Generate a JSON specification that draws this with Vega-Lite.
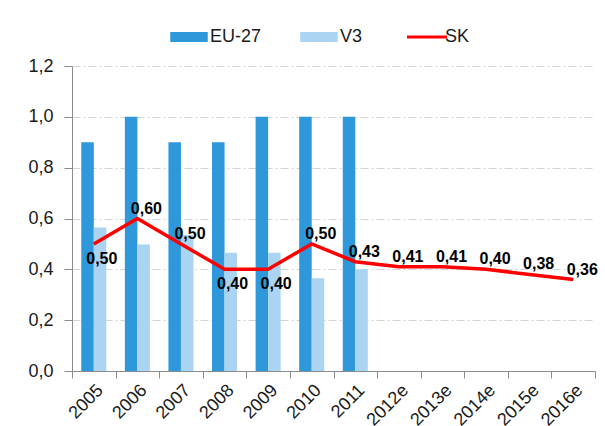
{
  "$schema": "https://vega.github.io/schema/vega-lite/v6.json",
  "autosize": {"type": "none"},
  "padding": {"left": 72, "top": 66, "right": 10, "bottom": 55},
  "width": 523,
  "height": 305,
  "background": "white",
  "data": {"values": [
    {"year": "2005", "series": "EU-27", "value": 0.9},
    {"year": "2006", "series": "EU-27", "value": 1.0},
    {"year": "2007", "series": "EU-27", "value": 0.9},
    {"year": "2008", "series": "EU-27", "value": 0.9},
    {"year": "2009", "series": "EU-27", "value": 1.0},
    {"year": "2010", "series": "EU-27", "value": 1.0},
    {"year": "2011", "series": "EU-27", "value": 1.0},
    {"year": "2005", "series": "V3", "value": 0.565},
    {"year": "2006", "series": "V3", "value": 0.498},
    {"year": "2007", "series": "V3", "value": 0.535},
    {"year": "2008", "series": "V3", "value": 0.465},
    {"year": "2009", "series": "V3", "value": 0.465},
    {"year": "2010", "series": "V3", "value": 0.365},
    {"year": "2011", "series": "V3", "value": 0.40},
    {"year": "2005", "series": "SK", "value": 0.50},
    {"year": "2006", "series": "SK", "value": 0.60},
    {"year": "2007", "series": "SK", "value": 0.50},
    {"year": "2008", "series": "SK", "value": 0.40},
    {"year": "2009", "series": "SK", "value": 0.40},
    {"year": "2010", "series": "SK", "value": 0.50},
    {"year": "2011", "series": "SK", "value": 0.43},
    {"year": "2012e", "series": "SK", "value": 0.41},
    {"year": "2013e", "series": "SK", "value": 0.41},
    {"year": "2014e", "series": "SK", "value": 0.40},
    {"year": "2015e", "series": "SK", "value": 0.38},
    {"year": "2016e", "series": "SK", "value": 0.36}
  ]},
  "encoding": {
    "x": {
      "field": "year", "type": "nominal",
      "sort": ["2005","2006","2007","2008","2009","2010","2011","2012e","2013e","2014e","2015e","2016e"],
      "scale": {"paddingInner": 0, "paddingOuter": 0},
      "axis": {
        "title": null, "labelAngle": -45, "labelFontSize": 18, "labelColor": "#1a1a1a",
        "labelFont": "Liberation Sans", "domainColor": "#8c8c8c", "tickColor": "#8c8c8c",
        "tickBand": "extent", "tickSize": 7, "labelPadding": 3, "grid": false
      }
    },
    "y": {
      "field": "value", "type": "quantitative",
      "scale": {"domain": [0, 1.2], "nice": false},
      "axis": {
        "title": null, "values": [0, 0.2, 0.4, 0.6, 0.8, 1.0, 1.2], "format": ".1f",
        "labelFontSize": 18, "labelColor": "#1a1a1a", "labelFont": "Liberation Sans",
        "domainColor": "#8c8c8c", "tickColor": "#8c8c8c", "tickSize": 8, "labelPadding": 11,
        "grid": true, "gridColor": "#d4d4d4", "gridDash": [8, 3, 2, 3]
      }
    }
  },
  "layer": [
    {
      "transform": [{"filter": "datum.series !== 'SK'"}],
      "mark": {"type": "bar"},
      "encoding": {
        "xOffset": {"field": "series", "type": "nominal", "sort": ["EU-27", "V3"], "scale": {"paddingInner": 0, "paddingOuter": 0.74}},
        "color": {
          "field": "series", "type": "nominal",
          "scale": {"domain": ["EU-27", "V3", "SK"], "range": ["#2E98DB", "#ABD3F2", "#FF0000"]},
          "legend": {
            "title": null, "orient": "none", "direction": "horizontal", "legendX": 108, "legendY": -38,
            "labelFontSize": 18, "labelFont": "Liberation Sans", "labelColor": "#1a1a1a",
            "symbolSize": 625, "labelOffset": 12, "columnPadding": 38,
            "encode": {
              "symbols": {"update": {
                "shape": {"signal": "datum.value === 'SK' ? 'M-1.6,0H1.6' : 'M-1.5,-0.4H1.5V0.4H-1.5Z'"},
                "fill": {"signal": "datum.value === 'SK' ? 'transparent' : (datum.value === 'EU-27' ? '#2E98DB' : '#ABD3F2')"},
                "stroke": {"signal": "datum.value === 'SK' ? '#FF0000' : 'transparent'"},
                "strokeWidth": {"signal": "datum.value === 'SK' ? 3 : 0"},
                "opacity": {"value": 1}
              }},
              "labels": {"update": {"dx": {"signal": "datum.value === 'SK' ? -3 : 0"}}}
            }
          }
        }
      }
    },
    {
      "transform": [{"filter": "datum.series === 'SK'"}],
      "mark": {"type": "line", "strokeWidth": 3.5, "strokeJoin": "miter"},
      "encoding": {
        "color": {"field": "series", "type": "nominal", "scale": {"domain": ["EU-27", "V3", "SK"], "range": ["#2E98DB", "#ABD3F2", "#FF0000"]}}
      }
    },
    {
      "transform": [{"filter": "datum.series === 'SK' && (datum.year === '2005' || datum.year === '2008' || datum.year === '2009')"}],
      "mark": {"type": "text", "fontWeight": "bold", "fontSize": 16, "font": "Liberation Sans", "color": "#000000", "dx": 8, "dy": 15, "baseline": "middle"},
      "encoding": {"text": {"field": "value", "type": "quantitative", "format": ".2f"}}
    },
    {
      "transform": [{"filter": "datum.series === 'SK' && !(datum.year === '2005' || datum.year === '2008' || datum.year === '2009')"}],
      "mark": {"type": "text", "fontWeight": "bold", "fontSize": 16, "font": "Liberation Sans", "color": "#000000", "dx": 9, "dy": -10, "baseline": "middle"},
      "encoding": {"text": {"field": "value", "type": "quantitative", "format": ".2f"}}
    }
  ],
  "config": {
    "view": {"stroke": null},
    "locale": {"number": {"decimal": ",", "thousands": " ", "grouping": [3], "currency": ["", ""]}}
  }
}
